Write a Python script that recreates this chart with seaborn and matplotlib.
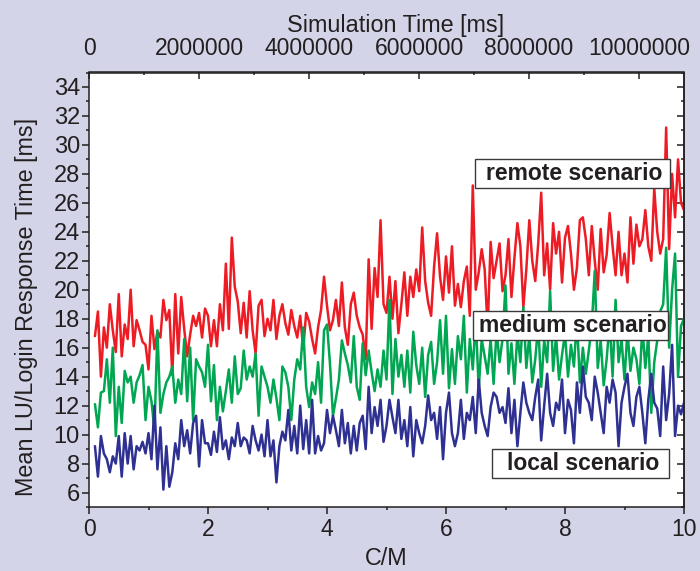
import numpy as np
import pandas as pd
import matplotlib
matplotlib.use("Agg")
import matplotlib.pyplot as plt
from matplotlib.patches import Rectangle
from matplotlib.ticker import MultipleLocator, FixedLocator
import seaborn as sns

# C/M sample grid, one reading every 0.05
cm = np.round(np.arange(0.10, 10.001, 0.05), 2)

# values, one line per unit of C/M
remote = [
    16.8, 18.5, 14.0, 17.4, 16.0, 19.0, 17.2, 15.7, 19.7, 15.4, 17.6, 16.6, 20.0, 16.1, 17.9, 17.2, 16.4, 16.2,
    14.5, 18.2, 15.9, 17.1, 16.7, 19.3, 17.9, 18.6, 14.1, 19.7, 15.6, 19.5, 17.3, 15.4, 16.9, 18.2, 17.5, 18.4, 16.7, 18.7,
    18.2, 16.1, 17.9, 16.1, 19.0, 17.2, 21.8, 17.3, 23.6, 20.2, 19.2, 17.0, 19.1, 16.7, 19.9, 17.2, 15.6, 18.9, 19.3, 16.8,
    18.0, 17.2, 19.3, 16.6, 18.2, 19.0, 17.7, 16.9, 18.6, 17.5, 16.7, 18.2, 15.9, 18.4, 17.8, 16.6, 15.6, 17.4, 18.6, 20.9,
    18.9, 17.2, 17.9, 19.3, 17.5, 20.5, 17.4, 16.2, 19.0, 19.8, 18.2, 17.4, 16.9, 15.2, 22.1, 17.3, 21.5, 19.5, 24.8, 19.0,
    18.4, 20.9, 18.0, 20.6, 17.0, 19.0, 21.2, 18.2, 20.9, 19.5, 21.4, 19.9, 24.3, 20.6, 19.1, 18.2, 21.6, 23.9, 20.9, 19.3,
    22.3, 19.8, 23.0, 18.9, 20.4, 18.8, 20.6, 21.6, 18.2, 27.2, 20.0, 21.2, 22.8, 21.4, 17.3, 23.3, 20.8, 22.0, 23.2, 19.9,
    21.0, 23.5, 19.5, 22.2, 24.6, 23.0, 18.8, 21.4, 24.8, 22.0, 20.6, 23.2, 26.7, 21.0, 23.2, 20.0, 24.6, 22.5, 24.0, 20.5,
    23.6, 24.4, 22.5, 20.0, 21.5, 24.8, 25.0, 23.5, 21.0, 24.4, 22.0, 20.0, 24.2, 21.2, 22.4, 25.3, 23.0, 21.0, 24.0, 21.0,
    22.5, 20.5, 25.0, 21.8, 24.5, 23.0, 23.5, 25.5, 23.0, 22.0, 27.0, 24.0, 22.5, 23.5, 31.2, 22.8, 28.0, 25.0, 29.0, 26.0,
    25.5,
]
medium = [
    12.1, 10.5, 12.9, 13.0, 15.2, 12.2, 16.0, 9.9, 13.3, 10.8, 14.4, 13.6, 14.0, 12.2, 13.6, 14.1, 14.8, 11.0,
    13.3, 12.3, 10.3, 17.2, 11.5, 12.8, 13.6, 14.0, 14.7, 12.2, 13.8, 12.8, 16.6, 12.3, 16.0, 11.0, 15.2, 14.7, 14.3, 13.3,
    16.2, 12.3, 14.8, 11.0, 13.3, 11.6, 13.0, 14.5, 12.2, 15.4, 12.8, 13.2, 15.8, 13.8, 14.7, 14.0, 15.6, 11.3, 14.7, 14.0,
    13.3, 12.2, 13.8, 12.5, 11.0, 14.7, 14.3, 13.3, 11.0, 13.8, 15.2, 14.5, 17.4, 13.3, 11.9, 13.6, 12.8, 15.0, 12.2, 17.2,
    17.6, 14.9, 11.3, 12.5, 13.8, 16.5, 15.6, 14.8, 13.6, 16.8, 13.3, 12.4, 16.3, 14.1, 15.8, 14.3, 13.0, 14.5, 13.3, 15.8,
    13.8, 19.3, 12.8, 16.6, 14.0, 15.5, 13.3, 15.8, 12.9, 17.1, 14.8, 13.5, 16.0, 12.6, 15.5, 16.4, 13.5, 15.0, 17.9, 14.2,
    18.2, 13.2, 15.9, 13.5, 16.8, 15.2, 18.2, 12.9, 16.6, 14.5, 18.0, 13.1, 16.6, 15.4, 14.2, 16.6, 13.5, 17.2, 15.0, 16.6,
    20.3, 14.2, 16.3, 13.5, 17.0, 15.0, 18.8, 14.6, 16.8, 13.6, 15.2, 17.6, 13.3, 16.5, 15.0, 19.9, 14.4, 16.8, 13.8, 15.5,
    17.0, 14.0, 16.2, 14.7, 18.0, 13.6, 16.0, 14.2, 15.8, 17.5, 21.3, 14.6, 16.5, 13.4, 15.2, 17.8, 14.0, 19.3, 15.0, 16.6,
    13.8, 17.2, 14.4, 16.0, 15.2, 13.5, 17.4, 14.6, 16.8, 11.5, 15.0, 16.5, 18.5, 19.0, 22.9, 16.0, 20.0, 22.5, 14.0, 17.5,
    18.0,
]
local = [
    9.2, 7.1, 9.9, 8.7, 8.3, 7.4, 8.5, 8.0, 9.9, 7.1, 10.1, 8.0, 9.9, 7.6, 9.2, 8.9, 9.5, 8.7,
    10.1, 8.3, 12.0, 7.6, 10.5, 6.2, 9.2, 6.4, 7.4, 9.4, 8.3, 11.0, 9.2, 10.3, 8.7, 10.8, 11.3, 7.8, 11.0, 9.4,
    9.4, 8.6, 10.2, 8.8, 11.2, 9.0, 9.6, 8.3, 9.8, 9.2, 10.8, 9.2, 9.8, 9.6, 8.7, 10.6, 9.6, 8.9, 10.0, 8.5,
    11.0, 8.5, 9.6, 6.7, 9.2, 10.2, 9.6, 11.7, 8.9, 10.6, 8.7, 12.0, 9.0, 11.0, 8.7, 12.4, 8.7, 9.9, 8.9, 9.4,
    11.7, 10.1, 11.3, 10.3, 9.2, 11.7, 9.4, 10.8, 8.7, 10.6, 8.9, 10.8, 11.3, 9.0, 13.3, 10.1, 11.9, 10.6, 12.4, 9.5,
    10.6, 12.4, 11.2, 10.1, 12.4, 9.7, 11.0, 9.2, 11.9, 8.5, 11.0, 10.1, 9.4, 10.6, 12.7, 11.0, 11.5, 9.7, 11.9, 8.3,
    11.5, 12.9, 10.1, 9.2, 10.1, 12.4, 9.7, 11.5, 11.0, 12.6, 10.1, 13.8, 11.5, 10.6, 9.9, 11.9, 12.9, 12.6, 11.5, 11.9,
    10.8, 13.2, 10.1, 12.4, 9.2, 11.5, 13.6, 12.2, 11.5, 11.0, 12.6, 13.8, 9.6, 12.0, 14.2, 11.5, 10.6, 12.2, 11.7, 13.8,
    10.1, 12.4, 11.7, 9.4, 13.6, 11.5, 14.7, 12.6, 12.2, 11.0, 14.0, 12.9, 11.5, 10.1, 13.3, 12.2, 13.8, 12.9, 9.2, 12.2,
    13.3, 14.2, 11.5, 10.6, 12.6, 13.3, 11.5, 9.4, 12.4, 14.2, 12.2, 11.8, 9.9, 14.7, 11.0, 12.8, 16.2, 9.9, 12.0, 11.4,
    12.2,
]

scenarios = ["remote scenario", "medium scenario", "local scenario"]
colors = ["#ed1c24", "#00a651", "#2e3192"]

# top axis: simulation time
MS_PER_CM = 1.0818e6
sim_major = [0, 2000000, 4000000, 6000000, 8000000, 10000000]
sim_minor = [1000000, 3000000, 5000000, 7000000, 9000000]

BG = "#d4d4e8"
INK = "#231f20"

sns.set_theme(style="ticks")
plt.rcParams["font.family"] = ["Liberation Sans", "DejaVu Sans"]
plt.rcParams.update({
    "font.size": 16.5,
    "text.color": INK,
    "axes.labelcolor": INK,
    "axes.labelsize": 16.8,
    "axes.edgecolor": INK,
    "axes.linewidth": 1.1,
    "xtick.color": INK,
    "ytick.color": INK,
    "xtick.labelsize": 16.5,
    "ytick.labelsize": 17,
})

df = pd.DataFrame({
    "C/M": np.tile(cm, 3),
    "value": remote + medium + local,
    "scenario": np.repeat(scenarios, len(cm)),
})

fig = plt.figure(figsize=(7, 5.71), dpi=100, facecolor=BG)
ax = fig.add_axes([89 / 700, 1 - 507 / 571, 595 / 700, 434.5 / 571])
ax.set_facecolor("white")

sns.lineplot(data=df, x="C/M", y="value", hue="scenario", hue_order=scenarios,
             palette=colors, linewidth=1.8, legend=False, estimator=None,
             sort=False, ax=ax)

ax.set_xlim(0, 10)
ax.set_ylim(5, 35)
ax.xaxis.set_major_locator(MultipleLocator(2))
ax.xaxis.set_minor_locator(MultipleLocator(1))
ax.yaxis.set_major_locator(MultipleLocator(2))
ax.yaxis.set_minor_locator(MultipleLocator(1))
ax.tick_params(which="major", direction="out", length=5, width=1.1, pad=3)
ax.tick_params(which="minor", direction="out", length=2.5, width=1.1)
ax.tick_params(axis="y", which="major", pad=1.5)
ax.set_xlabel("C/M", labelpad=4.5)
ax.set_ylabel("Mean LU/Login Response Time [ms]")
ax.yaxis.set_label_coords(-0.085, 0.46)

# right side: inward ticks, no labels
rax = ax.secondary_yaxis("right")
rax.yaxis.set_major_locator(MultipleLocator(2))
rax.yaxis.set_minor_locator(MultipleLocator(1))
rax.tick_params(which="major", direction="in", length=5, width=1.1, labelright=False)
rax.tick_params(which="minor", direction="in", length=2.5, width=1.1)

# top: simulation time axis
tax = ax.secondary_xaxis("top", functions=(lambda x: x * MS_PER_CM, lambda x: x / MS_PER_CM))
tax.xaxis.set_major_locator(FixedLocator(sim_major))
tax.xaxis.set_minor_locator(FixedLocator(sim_minor))
tax.set_xticklabels([str(v) for v in sim_major])
tax.tick_params(which="major", direction="in", length=5, width=1.1, pad=9)
tax.tick_params(which="minor", direction="in", length=2.5, width=1.1)
tax.set_xlabel("Simulation Time [ms]")
tax.xaxis.set_label_coords(0.516, 1.093, transform=ax.transAxes)

# scenario labels in boxes
boxes = [
    ("remote scenario", 6.49, 27.03, 3.27, 2.0, 9.63, 28.0),
    ("medium scenario", 6.45, 16.55, 3.28, 2.0, 9.71, 17.55),
    ("local scenario", 6.77, 6.97, 2.98, 2.06, 9.58, 8.0),
]
for label, bx, by, bw, bh, tx, ty in boxes:
    ax.add_patch(Rectangle((bx, by), bw, bh, facecolor="white", edgecolor="#3a3a3a",
                           linewidth=1.0, zorder=5))
    ax.text(tx, ty, label, ha="right", va="center", fontweight="bold",
            fontsize=16.5, color=INK, zorder=6)

fig.savefig("out.png", dpi=100, facecolor=BG)
